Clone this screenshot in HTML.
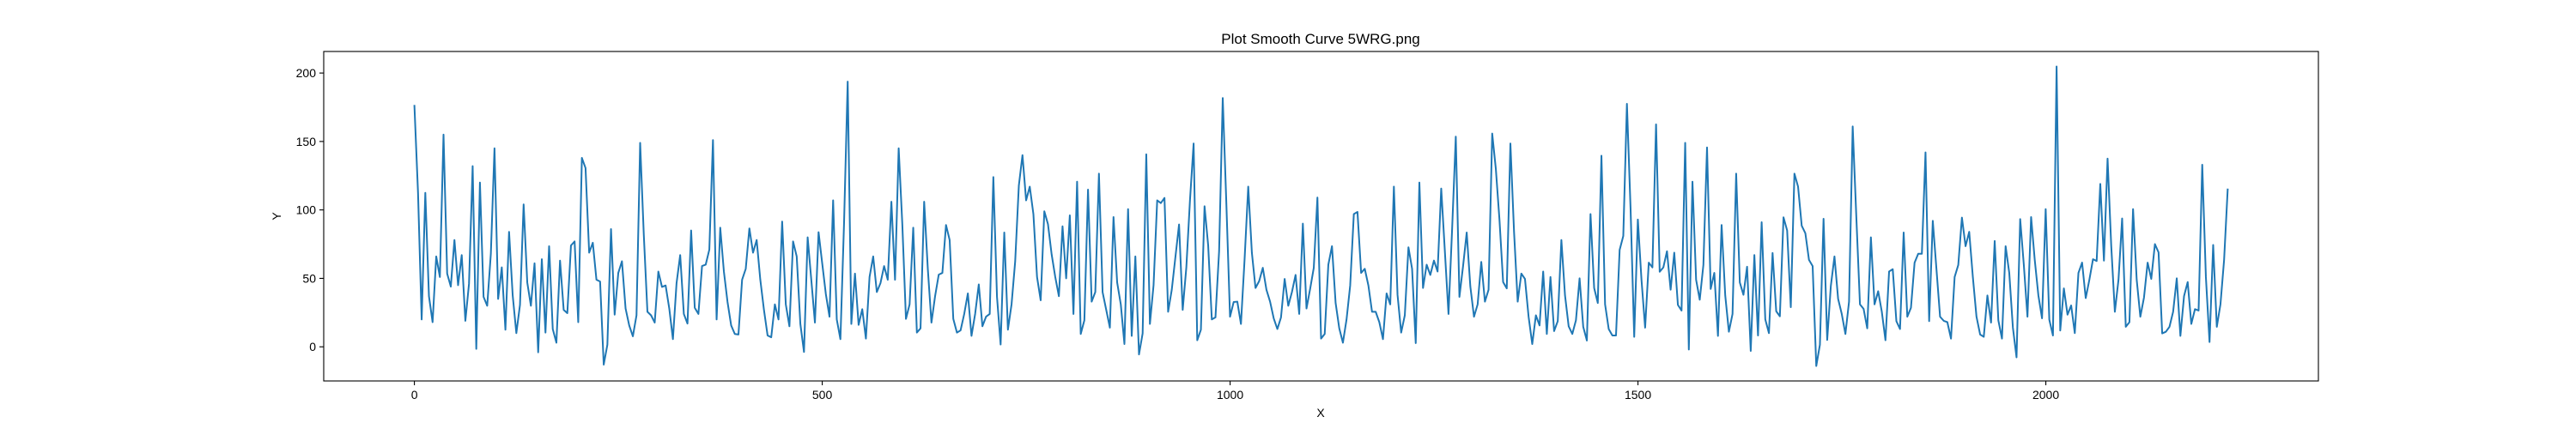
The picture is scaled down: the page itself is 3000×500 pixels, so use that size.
<!DOCTYPE html>
<html><head><meta charset="utf-8"><style>
html,body{margin:0;padding:0;background:#fff;}
svg{display:block;font-family:"Liberation Sans","DejaVu Sans",sans-serif;}
</style></head><body>
<svg id="chart" width="3000" height="500" viewBox="0 0 3000 500">
<text x="1538" y="51" font-size="17" text-anchor="middle">Plot Smooth Curve 5WRG.png</text>
<g id="grid"></g>
<path id="series" fill="none" stroke="#1f77b4" stroke-width="2" stroke-linejoin="round"></path>
<rect x="377" y="60" width="2323" height="384" fill="none" stroke="#000" stroke-width="1.1"></rect>
<g id="xticks"></g>
<g id="yticks"></g>
<text x="1538" y="486" font-size="14" text-anchor="middle">X</text>
<text x="327" y="252" font-size="14" text-anchor="middle" transform="rotate(-90 327 252)">Y</text>
</svg>
<script>
const xTicks = [0, 500, 1000, 1500, 2000];
const yTicks = [0, 50, 100, 150, 200];
const xMax = 2223;
const yValues = [
176.7,112.5,20,112.5,37,18,66,51,155,53.5,44,78,45,67,19,46,132,-1.5,120,36.5,30,68,145,35,58,12.5,84,37.5,10,30.6,104,47,30,61,-4,64,10.4,73.5,13,3,63,27,24.6,74,77,18,138,130.6,68.8,76,
49,47.7,-13,1.5,86,23.5,54,62.5,28,15.6,7.7,23,149,82,25.6,23,17.7,55,43.75,44.8,28,5.6,46.5,67,24,17,85,28.5,24,59,60,71,151,20,87,55,32.7,15.6,9.4,9,49,57,86.5,68.75,78,49,27,8.3,7,31,
20,91.5,31,15,77,66,16.7,-3.75,80,49,17.7,83.75,61,38.5,22,107,20,5.6,90.6,193.75,16.7,53.5,16,27.5,6,51,66,40,46.5,59,49,106,49,145,89.6,20.4,31,87,10.4,13.5,106,57,17.7,37,52.7,54,89,78,20.4,
10.4,12,24,39,8,24,45.6,15,22,24,124,36.5,1.7,83.5,12.5,31,62.5,117.7,140,107,117,97,51,34,99,89.6,67.7,51,37,88,50,96,24,120.6,9.4,19.4,114.8,33,40,126.5,40,27,14,94.8,47,31,2,100.6,8,66,
-5.6,9.8,140.6,16.7,45,107,105,108.75,25.6,41.7,65.6,89.4,27,58,107,148.5,4.8,12.5,102.7,74,20,21.5,69.8,181.7,104,22,32.7,33,16.7,64,117,68.75,43,48,57.7,41.7,33,20.8,13,21.5,49.6,30,40,52.5,24,90,28,42.3,57.7,109,6,
9.4,60,73.5,32,13.5,3,20,44.8,97,98.5,54,57,44.8,25.6,25.6,18,5.6,39,31,117,38,10.4,23,72.7,57,2.7,120,43,60,52.5,63,55,115.6,69.8,24,86.5,153.5,36.5,59,83.5,44,22,31,62,33,41.7,155.8,130,92.7,47.3,
42.7,148.5,84,33,53.5,49.6,21.9,2,23,15.6,55,9.4,51,11.5,18.75,78,37.5,15,9.4,19.4,50,14.6,4.6,97,43,32,139.6,31,13,8.3,8.3,70.8,81,177.5,101,7.3,93,49,14,61.5,58,162.5,54.8,58,69.8,41.7,68.75,30.6,26.5,149,-2,
120.6,49,34.4,59.8,145.6,42.3,54,8,89,37.5,11,24,126.5,47,38,58.5,-3,67,8.3,91,20,10,68.5,26,22.3,94.6,85,29,126.5,117,88.5,83,63.5,59,-14,1.5,93.5,5,44.4,66,35,24,9.4,33,161,94.8,31,27.7,13.5,80,31,
40.6,25.6,4.8,55,56.7,18.75,13,83.5,22,28.5,61.5,68,68,142,18.75,92,57,22,19,18,6,51,59.8,94.4,73.5,84,51,22,9,7.3,37.5,17.7,77.3,19.4,6,73.5,54,14,-7.7,93.3,59.8,22,94.8,63.5,37.5,20.8,100.6,19.8,8.3,204.8,
11.9,42.7,23.5,30.2,10,54,61.5,35.6,49,64,62.7,119,63,137.5,74,25.6,49,93.75,14.6,18,100.6,49,22,36,61.5,49.6,75,69,9.8,11,14.6,25.6,50,8,37,47.3,16.7,27.5,26.5,133,51,3.5,74.4,14.6,31,63.5,115.6
];
const NS = "http://www.w3.org/2000/svg";
const L = 377, R = 2700, T = 60, B = 444;
const xValues = yValues.map((_, i) => i * xMax / (yValues.length - 1));
const xmin = 0, xmax = xMax;
const xpad = (xmax - xmin) * 0.05;
let ymin = Math.min(...yValues), ymax = Math.max(...yValues);
const ypad = (ymax - ymin) * 0.05;
const x0 = xmin - xpad, x1 = xmax + xpad, y0 = ymin - ypad, y1 = ymax + ypad;
function sx(v){ return L + (v - x0) / (x1 - x0) * (R - L); }
function sy(v){ return B - (v - y0) / (y1 - y0) * (B - T); }
let d = "";
yValues.forEach((v, i) => { d += (i ? "L" : "M") + sx(xValues[i]).toFixed(2) + " " + sy(v).toFixed(2); });
document.getElementById("series").setAttribute("d", d);
const xg = document.getElementById("xticks");
xTicks.forEach(t => {
  const X = sx(t);
  const ln = document.createElementNS(NS, "line");
  ln.setAttribute("x1", X); ln.setAttribute("x2", X); ln.setAttribute("y1", B); ln.setAttribute("y2", B + 5);
  ln.setAttribute("stroke", "#000"); ln.setAttribute("stroke-width", "1.1");
  
  
  xg.appendChild(ln);
  const tx = document.createElementNS(NS, "text");
  tx.setAttribute("x", X); tx.setAttribute("y", B + 21); tx.setAttribute("font-size", "14"); tx.setAttribute("text-anchor", "middle");
  tx.textContent = t;
  
  
  xg.appendChild(tx);
});
const yg = document.getElementById("yticks");
yTicks.forEach(t => {
  const Y = sy(t);
  const ln = document.createElementNS(NS, "line");
  ln.setAttribute("x1", L - 5); ln.setAttribute("x2", L); ln.setAttribute("y1", Y); ln.setAttribute("y2", Y);
  ln.setAttribute("stroke", "#000"); ln.setAttribute("stroke-width", "1.1");
  
  
  yg.appendChild(ln);
  const tx = document.createElementNS(NS, "text");
  tx.setAttribute("x", L - 9); tx.setAttribute("y", Y + 5); tx.setAttribute("font-size", "14"); tx.setAttribute("text-anchor", "end");
  tx.textContent = t;
  
  
  yg.appendChild(tx);
});
</script>
</body></html>
